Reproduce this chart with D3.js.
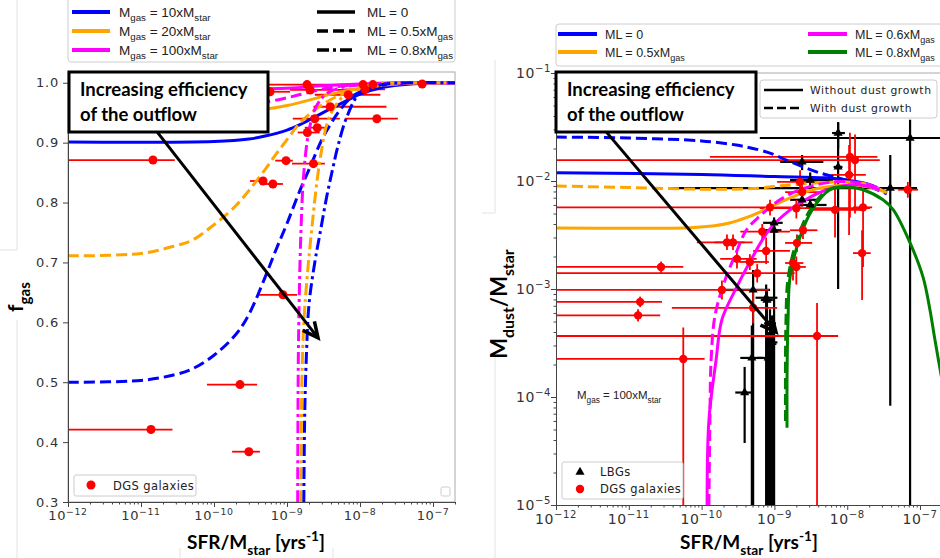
<!DOCTYPE html>
<html>
<head>
<meta charset="utf-8">
<script src="https://cdn.jsdelivr.net/npm/d3@7"></script>
<style>
  body { margin: 0; background: #fff; }
  svg { display: block; }
</style>
</head>
<body>
<div id="chart"></div>
<script>
// ---------- data, left panel (f_gas vs SFR/Mstar) ----------
const blueSolidL = [[1e-12,0.901],[1e-10,0.902],[3e-10,0.906],[5e-10,0.911],[1e-9,0.921],[1.5e-9,0.930],[2.5e-9,0.944],[4e-9,0.957],[7e-9,0.972],[1e-8,0.981],[2e-8,0.992],[5e-8,0.998],[2e-7,1.0]];
const blueDashedL = [[1e-12,0.5],[1e-11,0.503],[3e-11,0.513],[5e-11,0.522],[1e-10,0.545],[2e-10,0.58],[3e-10,0.613],[5e-10,0.675],[7e-10,0.72],[1e-9,0.765],[1.5e-9,0.82],[2e-9,0.855],[3e-9,0.905],[4e-9,0.932],[5e-9,0.95],[7e-9,0.972],[1e-8,0.985],[2e-8,0.996],[5e-8,1.0],[2e-7,1.0]];
const blueDotDashL = [[1.7e-9,0.3],[1.75e-9,0.45],[1.85e-9,0.55],[2e-9,0.63],[2.4e-9,0.70],[2.8e-9,0.745],[3.5e-9,0.81],[4.2e-9,0.855],[5e-9,0.895],[6.6e-9,0.943],[1e-8,0.983],[2e-8,0.997],[5e-8,1.0],[2e-7,1.0]];
const orangeSolidL = [[1e-12,0.952],[1e-10,0.952],[5e-10,0.956],[1e-9,0.962],[2e-9,0.971],[4e-9,0.981],[1e-8,0.991],[3e-8,0.998],[2e-7,1.0]];
const orangeDashedL = [[1e-12,0.711],[1e-11,0.715],[3e-11,0.728],[5e-11,0.737],[1e-10,0.763],[2e-10,0.795],[3e-10,0.82],[5e-10,0.855],[7e-10,0.88],[1e-9,0.905],[1.5e-9,0.933],[2e-9,0.947],[3e-9,0.963],[5e-9,0.978],[1e-8,0.99],[3e-8,0.998],[2e-7,1.0]];
const orangeDotDashL = [[1.55e-9,0.3],[1.6e-9,0.5],[1.7e-9,0.6],[1.9e-9,0.68],[2.2e-9,0.76],[2.6e-9,0.84],[3e-9,0.89],[3.5e-9,0.93],[4.5e-9,0.96],[7e-9,0.985],[1.5e-8,0.997],[5e-8,1.0],[2e-7,1.0]];
const magentaSolidL = [[1e-12,0.99],[1e-9,0.991],[3e-9,0.995],[1e-8,0.998],[3e-8,1.0],[2e-7,1.0]];
const magentaDashedL = [[1e-12,0.952],[1e-10,0.955],[3e-10,0.962],[5e-10,0.967],[1e-9,0.975],[2e-9,0.984],[4e-9,0.992],[1e-8,0.997],[5e-8,1.0],[2e-7,1.0]];
const magentaDotDashL = [[1.4e-9,0.3],[1.42e-9,0.5],[1.45e-9,0.6],[1.55e-9,0.75],[1.7e-9,0.85],[2e-9,0.92],[2.5e-9,0.96],[3.5e-9,0.982],[6e-9,0.993],[2e-8,0.999],[2e-7,1.0]];

// DGS galaxies: [sSFR, fgas, sSFR low, sSFR high]
const dgsLeft = [
  [1.88e-9,0.997,5.3e-10,1.5e-8],[2.07e-9,0.988,1.1e-9,7.3e-9],[5.85e-10,0.985,4.2e-10,1.1e-9],
  [1.1e-8,0.997,5.3e-9,2.6e-8],[1.17e-8,0.989,6.2e-9,2.2e-8],[1.5e-8,0.997,8e-9,2.5e-8],
  [7.1e-8,0.998,6e-8,8.5e-8],[6.9e-9,0.98,2.4e-9,1.9e-8],[3.9e-9,0.96,2.3e-9,2.3e-8],
  [2.4e-9,0.94,1.2e-9,5.3e-9],[1.7e-8,0.94,6.2e-9,3.3e-8],[2.6e-9,0.925,1.75e-9,3.3e-9],
  [1.9e-9,0.917,1.4e-9,2.8e-9],[1.46e-11,0.871,1e-13,2.9e-11],[9.7e-10,0.87,6.9e-10,1.2e-9],
  [2.3e-9,0.865,1.17e-9,3.3e-9],[4.7e-10,0.836,3.1e-10,5.3e-10],[6.4e-10,0.831,4.7e-10,8.8e-10],
  [8.8e-10,0.646,3.9e-10,1.37e-9],[2.27e-10,0.496,8.0e-11,3.9e-10],[1.37e-11,0.421,1e-13,2.7e-11],
  [3.0e-10,0.384,1.77e-10,4.25e-10]
];

// ---------- data, right panel (Mdust/Mstar vs SFR/Mstar) ----------
const blueDashedR = [[1e-12,2.55e-2],[1e-11,2.5e-2],[1e-10,2.35e-2],[3e-10,2.15e-2],[6e-10,1.95e-2],[1e-9,1.75e-2],[1.5e-9,1.55e-2],[2.5e-9,1.35e-2],[4e-9,1.2e-2],[7e-9,1.08e-2],[1.2e-8,9.8e-3],[2e-8,8.9e-3],[3.5e-8,7.6e-3]];
const blueSolidR = [[1e-12,1.19e-2],[1e-10,1.15e-2],[1e-9,1.1e-2],[5e-9,1.07e-2],[1e-8,1.02e-2],[2e-8,9.3e-3],[3.5e-8,7.8e-3]];
const orangeDashedR = [[1e-12,9.0e-3],[1e-11,8.7e-3],[1e-10,8.4e-3],[5e-10,8.5e-3],[1e-9,8.9e-3],[2e-9,9.3e-3],[5e-9,9.7e-3],[1e-8,9.8e-3],[2e-8,9.2e-3],[3.5e-8,7.8e-3]];
const orangeSolidR = [[1e-12,3.67e-3],[1e-11,3.65e-3],[7e-11,3.7e-3],[1.5e-10,3.85e-3],[2.5e-10,4.1e-3],[4e-10,4.55e-3],[6.3e-10,5.16e-3],[1e-9,6e-3],[1.64e-9,6.97e-3],[2.5e-9,7.8e-3],[4.2e-9,8.6e-3],[1.09e-8,9.2e-3],[2e-8,8.8e-3],[3.5e-8,7.8e-3]];
const magentaDashedR = [[1.26e-10,1e-5],[1.3e-10,6.1e-5],[1.35e-10,2.2e-4],[1.53e-10,5.7e-4],[2.1e-10,1.21e-3],[2.9e-10,2.07e-3],[4.1e-10,3.5e-3],[5.8e-10,4.5e-3],[7.9e-10,5.4e-3],[1.19e-9,6.7e-3],[2.25e-9,8.3e-3],[6.4e-9,9.8e-3],[1.5e-8,9.6e-3],[2.8e-8,8.6e-3]];
const magentaSolidR = [[1.19e-10,1e-5],[1.26e-10,6.1e-5],[1.58e-10,2.2e-4],[1.9e-10,5.2e-4],[2.9e-10,9.8e-4],[4.6e-10,1.78e-3],[8.4e-10,3.5e-3],[1.64e-9,5.4e-3],[3.1e-9,7.1e-3],[6.4e-9,8.6e-3],[1.5e-8,9.2e-3],[2.8e-8,8.3e-3]];
const greenSolidR = [[1.49e-9,5.2e-5],[1.49e-9,1.44e-4],[1.54e-9,5.2e-4],[1.64e-9,1.29e-3],[2.25e-9,3.03e-3],[3.3e-9,5.4e-3],[5.8e-9,8.3e-3],[9.9e-9,8.8e-3],[1.65e-8,8.3e-3],[3.1e-8,6.7e-3],[4.3e-8,5.4e-3],[7.3e-8,2.67e-3],[1.1e-7,1.29e-3],[1.37e-7,6.4e-4],[1.6e-7,3.4e-4],[2.0e-7,1.44e-4]];
const greenDashedR = [[1.42e-9,6e-5],[1.44e-9,5e-4],[1.55e-9,1.3e-3],[2.1e-9,3.0e-3],[3.1e-9,5.4e-3],[5.5e-9,8.3e-3],[9.9e-9,8.9e-3]];

// rows: [sSFR, Mdust/Mstar, sSFR low, sSFR high, y high, y low]
const dgsRight = [
  [1.09e-8,1.67e-2,1.3e-10,2.6e-8,2.8e-2,4.6e-3],[1.28e-8,1.56e-2,1e-13,2.8e-8,2.7e-2,5.0e-3],
  [1.06e-8,1.14e-2,6e-9,1.8e-8,2.15e-2,3.16e-3],[2.25e-9,9.8e-3,1.09e-9,3.8e-9,1.26e-2,7.4e-3],
  [2.4e-9,7.9e-3,1.4e-9,4.5e-9,9.8e-3,6.0e-3],[6.8e-8,8.3e-3,5.0e-8,9.4e-8,9.8e-3,7.0e-3],
  [8.7e-10,5.7e-3,1e-13,2.3e-9,6.7e-3,4.8e-3],[2.0e-9,5.6e-3,6.3e-10,2.05e-8,6.7e-3,4.5e-3],
  [6.8e-9,5.4e-3,3.0e-9,1.6e-8,9.6e-3,3.0e-3],[1.65e-8,5.7e-3,1.2e-8,2.2e-8,8.8e-3,1.6e-3],
  [2.47e-9,3.5e-3,1.64e-9,3.9e-9,4.2e-3,2.9e-3],[6.8e-10,3.4e-3,3.4e-10,1.64e-9,4.0e-3,2.8e-3],
  [2.23e-10,2.7e-3,8.6e-11,3.9e-10,3.2e-3,2.3e-3],[2.7e-10,2.7e-3,1.5e-10,5.0e-10,3.2e-3,2.3e-3],
  [3.06e-10,1.9e-3,1.8e-10,5.7e-10,2.3e-3,1.55e-3],[4.6e-10,1.78e-3,3.3e-10,8.4e-10,2.1e-3,1.5e-3],
  [7.7e-10,2.25e-3,5.1e-10,1.64e-9,3.0e-3,1.7e-3],[2.04e-9,2.67e-3,1.4e-9,3.3e-9,3.2e-3,2.2e-3],
  [1.8e-9,1.74e-3,1.4e-9,2.5e-9,2.2e-3,1.2e-3],[2.0e-9,1.6e-3,1.6e-9,2.7e-9,2.0e-3,1.1e-3],
  [1.6e-8,2.15e-3,1.2e-8,2.1e-8,3.5e-3,7.9e-4],[5.8e-10,1.4e-3,1e-13,1.9e-9,1.7e-3,1.15e-3],
  [2.77e-11,1.6e-3,1e-13,5.6e-11,1.8e-3,1.4e-3],[1.9e-10,9.8e-4,1e-13,8.4e-10,1.2e-3,8e-4],
  [1.43e-11,7.6e-4,1e-13,2.86e-11,8.5e-4,6.8e-4],[1.34e-11,5.7e-4,1e-13,2.7e-11,6.5e-4,5.0e-4],
  [3.85e-9,3.67e-4,1e-13,7.5e-9,7.4e-4,1e-6],[5.6e-11,2.25e-4,1e-13,1.1e-10,4.4e-4,1e-6],
  [5.1e-10,6.7e-4,3.9e-11,1.09e-9,9.8e-4,4.8e-4]
];
const lbgRight = [
  [7.5e-9,2.78e-2,6.2e-9,9.3e-9,3.5e-2,2.0e-2],[7.3e-8,2.5e-2,6.3e-10,2.2e-7,3.7e-2,1e-6],
  [2.4e-9,1.5e-2,1.2e-9,4.7e-9,1.74e-2,1.26e-2],[7.5e-9,1.35e-2,6.5e-9,8.6e-9,3.5e-2,1.0e-3],
  [3.1e-9,1.02e-2,1.64e-9,6.4e-9,1.2e-2,8.8e-3],[3.9e-8,8.6e-3,3.7e-11,9.1e-8,1.74e-2,8.3e-5],
  [2.4e-9,6.7e-3,1.64e-9,3.9e-9,7.6e-3,5.8e-3],[3.1e-9,6.0e-3,2.0e-9,5.2e-9,6.8e-3,5.2e-3],
  [9.9e-10,4.1e-3,7.0e-10,1.3e-9,4.6e-3,3.6e-3],[9.9e-10,3.5e-3,7.5e-10,1.25e-9,4.0e-3,1e-6],
  [5.1e-10,9.8e-4,1.7e-10,8.7e-10,1.5e-3,1e-6],[7.7e-10,8.3e-4,5.5e-10,1.1e-9,1.1e-3,1e-6],
  [4.9e-10,2.3e-4,3.4e-10,7.0e-10,4.6e-4,1e-6],[8.2e-10,2.3e-4,5.7e-10,1.0e-9,4.0e-4,1e-6],
  [3.9e-10,1.1e-4,2.9e-10,5.1e-10,1.9e-4,3.75e-5],[9.3e-10,3.2e-4,7.5e-10,1.1e-9,5.0e-4,1e-6],
  [7.9e-10,7.9e-4,6.5e-10,9.5e-10,1.0e-3,1e-6],[8.7e-10,4.8e-4,7.2e-10,1.05e-9,6.5e-4,1e-6]
];

// axes and annotation arrows
const xTicks = [1e-12,1e-11,1e-10,1e-9,1e-8,1e-7];
const xTickExp = ["\u221212","\u221211","\u221210","\u22129","\u22128","\u22127"];
const fTicks = [0.3,0.4,0.5,0.6,0.7,0.8,0.9,1.0];
const dustTicks = [1e-5,1e-4,1e-3,1e-2,1e-1];
const dustTickExp = ["\u22125","\u22124","\u22123","\u22122","\u22121"];
const arrowLeft = [[1.66e-11,0.918],[2.66e-9,0.574]];
const arrowRight = [[4.9e-12,2.85e-2],[1.05e-9,4.0e-4]];

const BLUE = "#0000ff", ORANGE = "#ffa500", MAGENTA = "#ff00ff", GREEN = "#008000", RED = "#ff0000";
const DASH = "11,5", DOTDASH = "12,4,3,4";
const TICKFONT = "DejaVu Sans", LEGFONT = "Liberation Sans", TITLEFONT = "Lato";

const svg = d3.select("#chart").append("svg").attr("width", 940).attr("height", 558);

// faint slide borders behind the plots
const faint = [[17,0,17,250],[0,250,17,250],[17,320,17,558],[495,60,495,213],[482,213,495,213],[495,355,495,558],[180,548,180,558],[333,548,333,558]];
faint.forEach(f => svg.append("line").attr("x1",f[0]).attr("y1",f[1]).attr("x2",f[2]).attr("y2",f[3]).attr("stroke","#e2e2e2").attr("stroke-width",1));

// text with sub / superscripts: parts = [[text, ""|"sub"|"sup"], ...]
function rich(t, parts, size) {
  let off = 0;
  parts.forEach(([s, k]) => {
    const target = k === "sub" ? size * 0.32 : k === "sup" ? -size * 0.42 : 0;
    const ts = t.append("tspan").text(s).attr("dy", target - off);
    if (k) ts.attr("font-size", size * 0.72);
    off = target;
  });
  return t;
}

function curve(g, data, x, y, color, dash) {
  g.append("path")
    .datum(data)
    .attr("d", d3.line().x(d => x(d[0])).y(d => y(d[1])).curve(d3.curveCatmullRom.alpha(0.5)))
    .attr("fill", "none")
    .attr("stroke", color)
    .attr("stroke-width", 3)
    .attr("stroke-dasharray", dash || null);
}

function arrow(g, p0, p1) {
  g.append("line").attr("x1",p0[0]).attr("y1",p0[1]).attr("x2",p1[0]).attr("y2",p1[1])
    .attr("stroke","#000").attr("stroke-width",3);
  const a = Math.atan2(p1[1]-p0[1], p1[0]-p0[0]);
  const len = 17, sp = 0.45;
  const w1 = [p1[0] - len*Math.cos(a-sp), p1[1] - len*Math.sin(a-sp)];
  const w2 = [p1[0] - len*Math.cos(a+sp), p1[1] - len*Math.sin(a+sp)];
  g.append("path").attr("d", `M${w1}L${p1}L${w2}`).attr("fill","none")
    .attr("stroke","#000").attr("stroke-width",3.5).attr("stroke-linejoin","miter");
}

function noteBox(g, x0, y0, w, h) {
  g.append("rect").attr("x",x0).attr("y",y0).attr("width",w).attr("height",h)
    .attr("fill","#fff").attr("stroke","#000").attr("stroke-width",3);
  g.append("text").attr("x",x0+11).attr("y",y0+24).attr("font-family",TITLEFONT).attr("font-weight","bold")
    .attr("font-size",18.5).text("Increasing efficiency");
  g.append("text").attr("x",x0+11).attr("y",y0+49).attr("font-family",TITLEFONT).attr("font-weight","bold")
    .attr("font-size",18.5).text("of the outflow");
}

function logXAxis(g, x, yPos, size, labelDy) {
  const minor = [];
  for (let e = -12; e < -6; e++) for (let m = 2; m <= 9; m++) {
    const v = m * Math.pow(10, e);
    if (v <= x.domain()[1]) minor.push(v);
  }
  g.append("g").attr("transform", `translate(0,${yPos})`)
    .call(d3.axisBottom(x).tickValues(xTicks).tickSize(5).tickSizeOuter(0).tickFormat(""));
  g.append("g").attr("transform", `translate(0,${yPos})`)
    .call(d3.axisBottom(x).tickValues(minor).tickSize(2.5).tickFormat("")).select(".domain").remove();
  g.selectAll(".domain, .tick line").attr("stroke", "#444");
  xTicks.forEach((v, i) => {
    const t = g.append("text").attr("x", x(v)).attr("y", yPos + labelDy).attr("text-anchor","middle")
      .attr("font-family",TICKFONT).attr("font-size",size).attr("letter-spacing",0.6).attr("fill","#333");
    rich(t, [["10",""],[xTickExp[i],"sup"]], size);
  });
}

function xTitle(g, cx) {
  const t = g.append("text").attr("x",cx).attr("y",549).attr("text-anchor","middle")
    .attr("font-family",TITLEFONT).attr("font-weight","bold").attr("font-size",19);
  rich(t, [["SFR/M",""],["star","sub"],[" [yrs",""],["-1","sup"],["]",""]], 19);
}

// ================= LEFT PANEL =================
const xL = d3.scaleLog().domain([1e-12, 2e-7]).range([68, 455]);
const yL = d3.scaleLinear().domain([0.3, 1.018]).range([502, 72]);
const gL = svg.append("g");

svg.append("clipPath").attr("id","clipL").append("rect").attr("x",68).attr("y",72).attr("width",387).attr("height",430);
gL.append("rect").attr("x",68).attr("y",72).attr("width",387).attr("height",430).attr("fill","none").attr("stroke","#aaa");

const plotL = gL.append("g").attr("clip-path","url(#clipL)");
// error bars
plotL.selectAll("line.errL").data(dgsLeft).enter().append("line")
  .attr("x1", d => xL(d[2])).attr("x2", d => xL(d[3]))
  .attr("y1", d => yL(d[1])).attr("y2", d => yL(d[1]))
  .attr("stroke", RED).attr("stroke-width", 1.8);
// model curves
curve(plotL, blueSolidL, xL, yL, BLUE);
curve(plotL, orangeSolidL, xL, yL, ORANGE);
curve(plotL, magentaSolidL, xL, yL, MAGENTA);
curve(plotL, blueDashedL, xL, yL, BLUE, DASH);
curve(plotL, orangeDashedL, xL, yL, ORANGE, DASH);
curve(plotL, magentaDashedL, xL, yL, MAGENTA, DASH);
curve(plotL, magentaDotDashL, xL, yL, MAGENTA, DOTDASH);
curve(plotL, orangeDotDashL, xL, yL, ORANGE, DOTDASH);
curve(plotL, blueDotDashL, xL, yL, BLUE, DOTDASH);
// points
plotL.selectAll("circle.ptL").data(dgsLeft).enter().append("circle")
  .attr("cx", d => xL(d[0])).attr("cy", d => yL(d[1])).attr("r", 4.5).attr("fill", RED);

// axes
const yAxL = gL.append("g").attr("transform","translate(68,0)")
  .call(d3.axisLeft(yL).tickValues(fTicks).tickSize(5).tickSizeOuter(0).tickFormat(d3.format(".1f")));
yAxL.selectAll("text").attr("font-family",TICKFONT).attr("font-size",13).attr("letter-spacing",0.8).attr("fill","#333").attr("dx",-1);
yAxL.selectAll(".domain, .tick line").attr("stroke","#444");
const xAxL = gL.append("g");
logXAxis(xAxL, xL, 502, 13, 18);

// y title
const fLab = gL.append("text").attr("transform","translate(23,312) rotate(-90)")
  .attr("font-family",TITLEFONT).attr("font-weight","bold").attr("font-size",21);
rich(fLab, [["f",""],["gas","sub"]], 21);
xTitle(gL, 256);

// annotation
noteBox(gL, 69, 72, 199, 60);
arrow(gL, [xL(arrowLeft[0][0]), yL(arrowLeft[0][1])], [xL(arrowLeft[1][0]), yL(arrowLeft[1][1])]);

// top legend
gL.append("rect").attr("x",68).attr("y",-6).attr("width",387).attr("height",68).attr("rx",3)
  .attr("fill","#fff").attr("stroke","#ccc");
const legL1 = [[BLUE,"10x"],[ORANGE,"20x"],[MAGENTA,"100x"]];
legL1.forEach((e, i) => {
  const yy = 12 + i * 19;
  gL.append("line").attr("x1",72).attr("x2",110).attr("y1",yy).attr("y2",yy).attr("stroke",e[0]).attr("stroke-width",4);
  const t = gL.append("text").attr("x",119).attr("y",yy+5).attr("font-family",LEGFONT).attr("font-size",13.5).attr("fill","#222");
  rich(t, [["M",""],["gas","sub"],[" = " + e[1] + "M",""],["star","sub"]], 13.5);
});
const legL2 = [[null,"0"],[DASH,"0.5x"],[DOTDASH,"0.8x"]];
legL2.forEach((e, i) => {
  const yy = 12 + i * 19;
  gL.append("line").attr("x1",317).attr("x2",355).attr("y1",yy).attr("y2",yy).attr("stroke","#000")
    .attr("stroke-width",3.5).attr("stroke-dasharray",e[0]);
  const t = gL.append("text").attr("x",367).attr("y",yy+5).attr("font-family",LEGFONT).attr("font-size",13.5).attr("fill","#222");
  if (i === 0) rich(t, [["ML = 0",""]], 13.5);
  else rich(t, [["ML = " + e[1] + "M",""],["gas","sub"]], 13.5);
});

// bottom legend
gL.append("rect").attr("x",74).attr("y",475).attr("width",122).attr("height",21).attr("rx",2)
  .attr("fill","#fff").attr("stroke","#ccc");
gL.append("circle").attr("cx",91).attr("cy",485).attr("r",4.5).attr("fill",RED);
gL.append("text").attr("x",113).attr("y",490).attr("font-family",TICKFONT).attr("font-size",11.5)
  .attr("letter-spacing",0.4).attr("fill","#222").text("DGS galaxies");
gL.append("rect").attr("x",441).attr("y",487).attr("width",9).attr("height",9).attr("rx",1.5)
  .attr("fill","#fff").attr("stroke","#ccc");

// ================= RIGHT PANEL =================
const xR = d3.scaleLog().domain([1e-12, 2.5e-7]).range([556, 949]);
const yR = d3.scaleLog().domain([1e-5, 1e-1]).range([505, 73]);
const gR = svg.append("g");

svg.append("clipPath").attr("id","clipR").append("rect").attr("x",556).attr("y",73).attr("width",400).attr("height",432);
gR.append("line").attr("x1",556).attr("x2",940).attr("y1",73).attr("y2",73).attr("stroke","#aaa");

const plotR = gR.append("g").attr("clip-path","url(#clipR)");
function errBars(rows, color, w) {
  plotR.selectAll(null).data(rows).enter().append("line")
    .attr("x1", d => xR(d[2])).attr("x2", d => xR(d[3]))
    .attr("y1", d => yR(d[1])).attr("y2", d => yR(d[1]))
    .attr("stroke", color).attr("stroke-width", w);
  plotR.selectAll(null).data(rows).enter().append("line")
    .attr("x1", d => xR(d[0])).attr("x2", d => xR(d[0]))
    .attr("y1", d => yR(d[4])).attr("y2", d => yR(Math.max(d[5], 1e-6)))
    .attr("stroke", color).attr("stroke-width", w);
}
errBars(lbgRight, "#000", 2.2);
errBars(dgsRight, RED, 1.8);

curve(plotR, blueDashedR, xR, yR, BLUE, DASH);
curve(plotR, blueSolidR, xR, yR, BLUE);
curve(plotR, orangeDashedR, xR, yR, ORANGE, DASH);
curve(plotR, orangeSolidR, xR, yR, ORANGE);
curve(plotR, magentaDashedR, xR, yR, MAGENTA, DASH);
curve(plotR, magentaSolidR, xR, yR, MAGENTA);
curve(plotR, greenDashedR, xR, yR, GREEN, DASH);
curve(plotR, greenSolidR, xR, yR, GREEN);

plotR.selectAll("path.tri").data(lbgRight).enter().append("path")
  .attr("d", d3.symbol(d3.symbolTriangle, 36))
  .attr("transform", d => `translate(${xR(d[0])},${yR(d[1])})`).attr("fill", "#000");
plotR.selectAll("circle.ptR").data(dgsRight).enter().append("circle")
  .attr("cx", d => xR(d[0])).attr("cy", d => yR(d[1])).attr("r", 4.2).attr("fill", RED);

// axes
const minorY = [];
for (let e = -5; e < -1; e++) for (let m = 2; m <= 9; m++) minorY.push(m * Math.pow(10, e));
gR.append("g").attr("transform","translate(556,0)")
  .call(d3.axisLeft(yR).tickValues(dustTicks).tickSize(5).tickSizeOuter(0).tickFormat(""));
gR.append("g").attr("transform","translate(556,0)")
  .call(d3.axisLeft(yR).tickValues(minorY).tickSize(2.5).tickFormat("")).select(".domain").remove();
gR.selectAll(".domain, .tick line").attr("stroke","#444");
dustTicks.forEach((v, i) => {
  const t = gR.append("text").attr("x",551).attr("y",yR(v)+5).attr("text-anchor","end")
    .attr("font-family",TICKFONT).attr("font-size",14).attr("letter-spacing",0.6).attr("fill","#333");
  rich(t, [["10",""],[dustTickExp[i],"sup"]], 14);
});
const xAxR = gR.append("g");
logXAxis(xAxR, xR, 505, 14, 19);

const mLab = gR.append("text").attr("transform","translate(507,304) rotate(-90)").attr("text-anchor","middle")
  .attr("font-family",TITLEFONT).attr("font-weight","bold").attr("font-size",22);
rich(mLab, [["M",""],["dust","sub"],["/M",""],["star","sub"]], 22);
xTitle(gR, 749);

noteBox(gR, 556, 72, 200, 60);
arrow(gR, [xR(arrowRight[0][0]), yR(arrowRight[0][1])], [xR(arrowRight[1][0]), yR(arrowRight[1][1])]);

// top legend
gR.append("rect").attr("x",556).attr("y",24).attr("width",395).attr("height",42).attr("rx",3)
  .attr("fill","#fff").attr("stroke","#ccc");
const legR = [[BLUE,558,34,"0"],[ORANGE,558,52,"0.5x"],[MAGENTA,808,34,"0.6x"],[GREEN,808,52,"0.8x"]];
legR.forEach(e => {
  gR.append("line").attr("x1",e[1]).attr("x2",e[1]+39).attr("y1",e[2]).attr("y2",e[2]).attr("stroke",e[0]).attr("stroke-width",4);
  const t = gR.append("text").attr("x",e[1]+47).attr("y",e[2]+5).attr("font-family",LEGFONT).attr("font-size",12.5).attr("fill","#222");
  if (e[3] === "0") rich(t, [["ML = 0",""]], 12.5);
  else rich(t, [["ML = " + e[3] + "M",""],["gas","sub"]], 12.5);
});

// dust growth legend
gR.append("rect").attr("x",760).attr("y",80).attr("width",177).attr("height",38).attr("rx",3)
  .attr("fill","#fff").attr("stroke","#ccc");
[[null,90,"Without dust growth"],["9,4",108,"With dust growth"]].forEach(e => {
  gR.append("line").attr("x1",764).attr("x2",803).attr("y1",e[1]).attr("y2",e[1]).attr("stroke","#000")
    .attr("stroke-width",2.5).attr("stroke-dasharray",e[0]);
  gR.append("text").attr("x",810).attr("y",e[1]+4).attr("font-family",TICKFONT).attr("font-size",10.8)
    .attr("letter-spacing",0.6).attr("fill","#222").text(e[2]);
});

// Mgas label
const mg = gR.append("text").attr("x",577).attr("y",399).attr("font-family",LEGFONT).attr("font-size",11.5).attr("fill","#222");
rich(mg, [["M",""],["gas","sub"],[" = 100xM",""],["star","sub"]], 11.5);

// bottom legend
gR.append("rect").attr("x",562).attr("y",462).attr("width",121).attr("height",37).attr("rx",2)
  .attr("fill","#fff").attr("stroke","#ccc");
gR.append("path").attr("d", d3.symbol(d3.symbolTriangle, 36)).attr("transform","translate(580,472)").attr("fill","#000");
gR.append("circle").attr("cx",580).attr("cy",489).attr("r",4.2).attr("fill",RED);
gR.append("text").attr("x",600).attr("y",476).attr("font-family",TICKFONT).attr("font-size",11.5)
  .attr("letter-spacing",0.4).attr("fill","#222").text("LBGs");
gR.append("text").attr("x",600).attr("y",493).attr("font-family",TICKFONT).attr("font-size",11.5)
  .attr("letter-spacing",0.4).attr("fill","#222").text("DGS galaxies");
</script>
</body>
</html>
